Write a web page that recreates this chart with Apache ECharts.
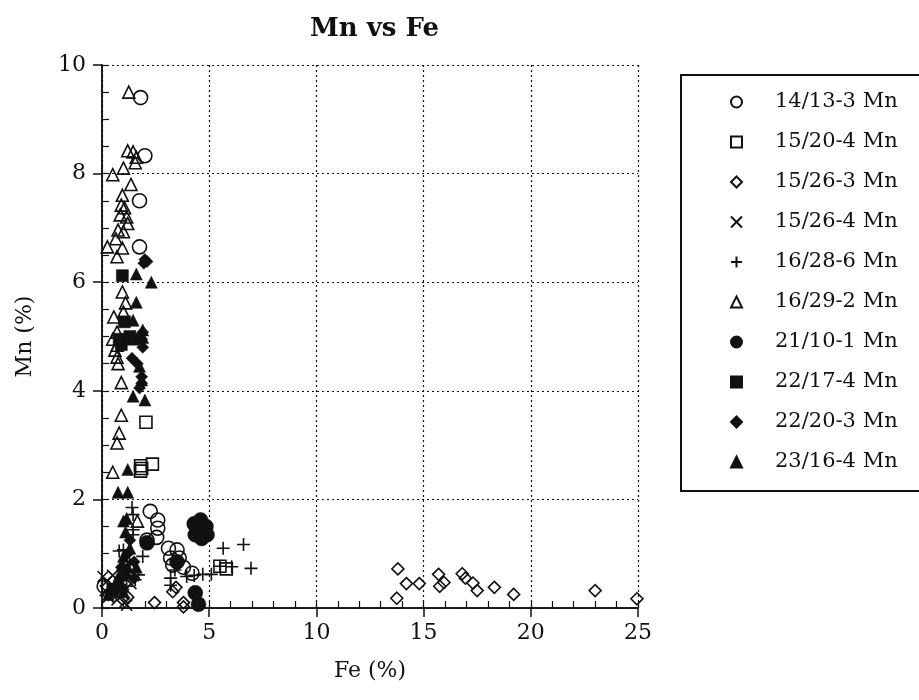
<!DOCTYPE html>
<html>
<head>
<meta charset="utf-8">
<title>Mn vs Fe</title>
<script src="https://cdn.jsdelivr.net/npm/echarts@6/dist/echarts.min.js"></script>
<style>
  html, body { margin: 0; padding: 0; background: #fff; }
  #chart { width: 919px; height: 700px; }
</style>
</head>
<body>
<div id="chart"></div>
<script>
// sample names (legend order)
const sampleNames = ['14/13-3 Mn', '15/20-4 Mn', '15/26-3 Mn', '15/26-4 Mn', '16/28-6 Mn',
  '16/29-2 Mn', '21/10-1 Mn', '22/17-4 Mn', '22/20-3 Mn', '23/16-4 Mn'];

// [Fe %, Mn %] pairs
const s14_13_3 = [[1.8, 9.4], [2.0, 8.33], [1.75, 7.5], [1.75, 6.65], [2.25, 1.78], [2.6, 1.62], [2.6, 1.47],
  [2.55, 1.3], [2.1, 1.25], [3.1, 1.1], [3.5, 1.07], [3.2, 0.92], [3.6, 0.92], [3.3, 0.79], [3.8, 0.75],
  [4.2, 0.64], [0.1, 0.4]];
const s15_20_4 = [[2.05, 3.42], [1.8, 2.62], [1.8, 2.52], [1.85, 2.57], [2.35, 2.65], [5.8, 0.72], [5.5, 0.77]];
const s15_26_3 = [[13.8, 0.72], [13.75, 0.18], [14.2, 0.45], [14.8, 0.45], [15.7, 0.62], [15.75, 0.4],
  [15.95, 0.47], [16.8, 0.63], [16.95, 0.55], [17.3, 0.46], [17.5, 0.32], [18.3, 0.38], [19.2, 0.25],
  [23.0, 0.32], [24.95, 0.17], [2.45, 0.1], [3.3, 0.3], [3.45, 0.38], [3.8, 0.1], [3.8, 0.02],
  [0.3, 0.25], [1.2, 0.2], [1.1, 0.45]];
const s15_26_4 = [[0.05, 0.58], [0.2, 0.48], [0.15, 0.32], [0.3, 0.2], [0.5, 0.6], [0.9, 0.35], [1.0, 0.25],
  [1.05, 0.1], [1.15, 0.05], [1.35, 0.45], [0.7, 0.15]];
const s16_28_6 = [[5.65, 1.1], [6.6, 1.17], [5.5, 0.77], [6.05, 0.76], [6.95, 0.73], [4.7, 0.62], [5.1, 0.62],
  [3.2, 0.55], [3.2, 0.42], [1.4, 1.85], [1.45, 1.72], [1.45, 1.44], [1.45, 1.35], [1.0, 1.07], [1.9, 0.95],
  [1.7, 0.61], [1.55, 0.52], [1.15, 0.4], [3.95, 0.58], [1.3, 0.8], [0.8, 1.05], [3.4, 0.7], [4.3, 0.6]];
const s16_29_2 = [[1.25, 9.5], [1.2, 8.42], [1.45, 8.4], [1.6, 8.3], [1.55, 8.2], [1.0, 8.1], [0.5, 7.98],
  [1.35, 7.8], [0.95, 7.6], [0.9, 7.42], [1.05, 7.37], [0.85, 7.24], [1.15, 7.2], [1.2, 7.08], [0.75, 6.96],
  [1.0, 6.93], [0.65, 6.8], [0.25, 6.65], [0.95, 6.63], [0.7, 6.47], [0.95, 5.82], [1.1, 5.62], [1.0, 5.45],
  [0.55, 5.36], [0.7, 5.08], [0.5, 4.95], [0.7, 4.84], [0.6, 4.75], [0.7, 4.62], [0.75, 4.5], [0.9, 4.15],
  [0.9, 3.55], [0.8, 3.22], [0.7, 3.04], [0.5, 2.5], [1.65, 1.6]];
const s21_10_1 = [[4.3, 1.55], [4.6, 1.62], [4.85, 1.5], [4.35, 1.35], [4.65, 1.28], [4.9, 1.35], [4.55, 1.45],
  [4.35, 0.28], [4.5, 0.07], [3.5, 0.85], [2.1, 1.2]];
const s22_17_4 = [[0.95, 6.12], [1.05, 5.27], [1.45, 4.95], [0.9, 4.85], [1.3, 5.0], [0.8, 4.95], [0.5, 0.35]];
const s22_20_3 = [[2.0, 6.42], [2.1, 6.38], [1.95, 6.35], [1.9, 5.08], [1.85, 4.95], [1.9, 4.8], [1.4, 4.6],
  [1.65, 4.5], [1.85, 4.26], [1.85, 4.14], [1.75, 4.05], [1.2, 1.0], [1.5, 0.85], [1.1, 0.6], [1.3, 1.25],
  [0.6, 0.3], [0.9, 0.75], [1.5, 0.55]];
const s23_16_4 = [[1.6, 6.15], [2.3, 6.0], [1.6, 5.63], [1.45, 5.3], [1.9, 5.12], [1.9, 4.98], [1.75, 4.45],
  [1.85, 4.2], [1.45, 3.9], [2.0, 3.83], [1.2, 2.55], [0.75, 2.13], [1.2, 2.13], [1.0, 1.6], [1.15, 1.65],
  [1.0, 0.95], [0.8, 0.6], [0.9, 0.45], [0.5, 0.3], [0.3, 0.25], [0.7, 0.5], [1.2, 0.75], [1.0, 0.3],
  [1.1, 1.4], [0.95, 0.8], [1.3, 1.1], [1.6, 0.75]];

const allData = [s14_13_3, s15_20_4, s15_26_3, s15_26_4, s16_28_6, s16_29_2, s21_10_1, s22_17_4, s22_20_3, s23_16_4];

const font = 'DejaVu Serif';
const ink = '#111';

// marker look per sample
const PLUS = 'path://M0,5L10,5M5,0L5,10';
const CROSS = 'path://M0,0L10,10M10,0L0,10';
const looks = [
  { symbol: 'circle', size: 14, open: true },
  { symbol: 'rect', size: 12, open: true },
  { symbol: 'diamond', size: 12, open: true },
  { symbol: CROSS, size: 11, open: true },
  { symbol: PLUS, size: 13, open: true },
  { symbol: 'triangle', size: 12, open: true },
  { symbol: 'circle', size: 15, open: false },
  { symbol: 'rect', size: 12, open: false },
  { symbol: 'diamond', size: 12, open: false },
  { symbol: 'triangle', size: 12, open: false }
];

let series = sampleNames.map(function (name, i) {
  let lk = looks[i];
  return {
    name: name,
    type: 'scatter',
    data: allData[i],
    symbol: lk.symbol,
    symbolSize: lk.size,
    itemStyle: lk.open
      ? { color: 'transparent', borderColor: ink, borderWidth: 1.6, opacity: 1 }
      : { color: ink, borderColor: ink, borderWidth: 0.5, opacity: 1 },
    emphasis: { disabled: true }
  };
});

let splitStyle = { show: true, lineStyle: { color: ink, type: [2, 3], width: 1.2 } };
let lineStyle = { color: ink, width: 1.5 };
let labelStyle = { color: ink, fontFamily: font, fontSize: 22 };

let chart = echarts.init(document.getElementById('chart'));
chart.setOption({
  animation: false,
  backgroundColor: '#fff',
  title: {
    text: 'Mn vs Fe',
    left: 305,
    top: 11,
    textStyle: { fontFamily: font, fontSize: 26, fontWeight: 'bold', color: ink }
  },
  legend: {
    orient: 'vertical',
    left: 681,
    top: 75,
    data: sampleNames,
    itemWidth: 11,
    itemHeight: 11,
    itemGap: 18,
    padding: [16, 33, 18, 49],
    borderColor: ink,
    borderWidth: 2,
    textStyle: { fontFamily: font, fontSize: 21, color: ink, lineHeight: 22, padding: [0, 0, 0, 28] }
  },
  grid: { left: 102, top: 65, width: 536, height: 543 },
  xAxis: [{
    type: 'value', min: 0, max: 25, interval: 5, position: 'bottom',
    name: 'Fe (%)', nameLocation: 'middle', nameGap: 52,
    nameTextStyle: labelStyle,
    axisLine: { lineStyle: lineStyle },
    axisTick: { inside: false, length: 9, lineStyle: lineStyle },
    axisLabel: Object.assign({ margin: 14 }, labelStyle),
    splitLine: splitStyle
  }, {
    type: 'value', min: 0, max: 25, interval: 5, position: 'bottom',
    axisLine: { show: false },
    axisTick: { inside: true, length: 7, lineStyle: { color: ink, width: 1.2 } },
    minorTick: { show: true, splitNumber: 5, length: 7, lineStyle: { color: ink, width: 1.2 } },
    axisLabel: { show: false },
    splitLine: { show: false }
  }, {
    type: 'value', min: 0, max: 25, position: 'top',
    axisLine: { lineStyle: lineStyle },
    axisTick: { show: false }, axisLabel: { show: false }, splitLine: { show: false }
  }],
  yAxis: [{
    type: 'value', min: 0, max: 10, interval: 2, position: 'left',
    name: 'Mn (%)', nameLocation: 'middle', nameGap: 66,
    nameTextStyle: labelStyle,
    axisLine: { lineStyle: lineStyle },
    axisTick: { inside: false, length: 9, lineStyle: lineStyle },
    axisLabel: Object.assign({ margin: 16 }, labelStyle),
    splitLine: splitStyle
  }, {
    type: 'value', min: 0, max: 10, interval: 2, position: 'left',
    axisLine: { show: false },
    axisTick: { inside: true, length: 7, lineStyle: { color: ink, width: 1.2 } },
    minorTick: { show: true, splitNumber: 4, length: 7, lineStyle: { color: ink, width: 1.2 } },
    axisLabel: { show: false },
    splitLine: { show: false }
  }, {
    type: 'value', min: 0, max: 10, position: 'right',
    axisLine: { lineStyle: lineStyle },
    axisTick: { show: false }, axisLabel: { show: false }, splitLine: { show: false }
  }],
  series: series
});
</script>
</body>
</html>
